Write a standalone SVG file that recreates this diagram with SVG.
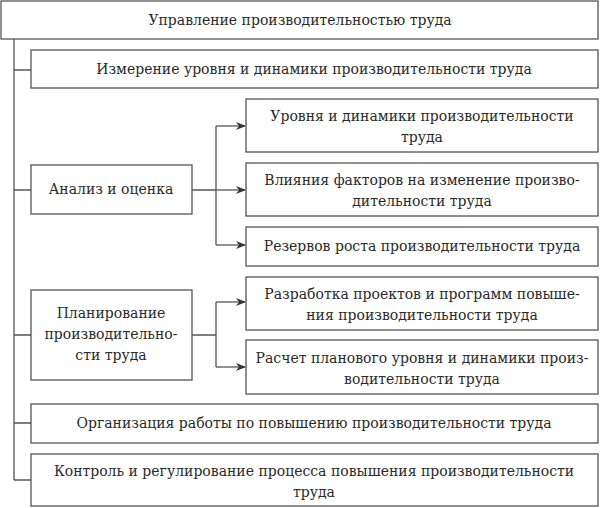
<svg xmlns="http://www.w3.org/2000/svg" width="600" height="508" viewBox="0 0 600 508" font-family="'DejaVu Serif', serif" font-size="14">
<style>
rect{fill:#fff;stroke:#555;stroke-width:1.3}
text{fill:#2a2a2a;text-anchor:middle}
.c{fill:none;stroke:#555;stroke-width:1.3}
</style>
<defs><marker id="a" markerWidth="10" markerHeight="8" refX="9" refY="4" orient="auto" markerUnits="userSpaceOnUse"><path d="M0,0 L10,4 L0,8 L3,4 Z" fill="#333"/></marker></defs>
<rect width="600" height="508" style="fill:#fff;stroke:none"/>
<g id="connectors" class="c">
<path d="M14,39 V480 M14,70 H31 M14,190 H31 M14,335 H31 M14,423 H31 M14,480 H31"/>
<path d="M192,190 H216 M216,126 V245 M192,335 H216 M216,302 V367"/>
<path d="M216,126 H245" marker-end="url(#a)"/>
<path d="M216,190 H245" marker-end="url(#a)"/>
<path d="M216,245 H245" marker-end="url(#a)"/>
<path d="M216,302 H245" marker-end="url(#a)"/>
<path d="M216,367 H245" marker-end="url(#a)"/>
</g>
<g id="root"><rect x="1" y="1" width="597" height="38"/><text x="300" y="25">Управление производительностью труда</text></g>
<g id="n1"><rect x="31" y="50" width="567" height="38"/><text x="314" y="74">Измерение уровня и динамики производительности труда</text></g>
<g id="n2"><rect x="31" y="165" width="161" height="49"/><text x="111" y="194">Анализ и оценка</text></g>
<g id="n2a"><rect x="246" y="99" width="352" height="53"/><text x="422" y="121">Уровня и динамики производительности</text><text x="422" y="142">труда</text></g>
<g id="n2b"><rect x="246" y="163" width="352" height="53"/><text x="422" y="185">Влияния факторов на изменение произво-</text><text x="422" y="206">дительности труда</text></g>
<g id="n2c"><rect x="246" y="227" width="352" height="39"/><text x="422" y="251">Резервов роста производительности труда</text></g>
<g id="n3"><rect x="31" y="290" width="161" height="90"/><text x="111" y="318">Планирование</text><text x="111" y="339">производительно-</text><text x="111" y="360">сти труда</text></g>
<g id="n3a"><rect x="246" y="277" width="352" height="53"/><text x="422" y="299">Разработка проектов и программ повыше-</text><text x="422" y="320">ния производительности труда</text></g>
<g id="n3b"><rect x="246" y="340" width="352" height="54"/><text x="422" y="363">Расчет планового уровня и динамики произ-</text><text x="422" y="384">водительности труда</text></g>
<g id="n4"><rect x="31" y="404" width="567" height="39"/><text x="314" y="428">Организация работы по повышению производительности труда</text></g>
<g id="n5"><rect x="31" y="454" width="567" height="52"/><text x="314" y="476">Контроль и регулирование процесса повышения производительности</text><text x="314" y="497">труда</text></g>
</svg>
